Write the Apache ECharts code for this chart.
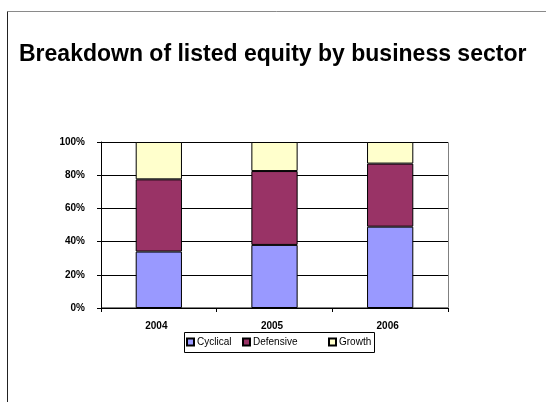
<!DOCTYPE html>
<html><head><meta charset="utf-8">
<script src="https://cdn.jsdelivr.net/npm/echarts@6/dist/echarts.min.js"></script>
<style>html,body{margin:0;padding:0;background:#fff}#c{width:546px;height:402px}</style>
</head><body><div id="c"></div>
<script>
const categories = ['2004', '2005', '2006'];
const cyclical = [34, 38, 49];
const defensive = [43.5, 44.5, 38];
const growth = [22.5, 17.5, 13];
const yTicks = [0, 20, 40, 60, 80, 100];
const seriesNames = ['Cyclical', 'Defensive', 'Growth'];

const chart = echarts.init(document.getElementById('c'), null, {renderer: 'canvas'});
const font = 'Liberation Sans, Arial, sans-serif';
const barStyle = (c) => ({color: c, borderColor: '#000', borderWidth: 1});
const legendBase = {
  top: 337, itemWidth: 7, itemHeight: 7, padding: 0, icon: 'rect',
  textStyle: {fontFamily: font, fontSize: 10, color: '#000', padding: [0, 0, 0, -2]}
};
chart.setOption({
  animation: false,
  backgroundColor: '#fff',
  title: {
    text: 'Breakdown of listed equity by business sector',
    left: 19, top: 43, padding: 0,
    textStyle: {fontFamily: font, fontWeight: 'bold', fontSize: 23, color: '#000'}
  },
  graphic: [
    {type: 'line', shape: {x1: 7.5, y1: 11.5, x2: 546, y2: 11.5}, style: {stroke: '#8a8a8a', lineWidth: 1}, silent: true},
    {type: 'line', shape: {x1: 7.5, y1: 11.5, x2: 7.5, y2: 402}, style: {stroke: '#222', lineWidth: 1}, silent: true},
    {type: 'rect', shape: {x: 101.5, y: 142.5, width: 347, height: 165}, style: {stroke: '#808080', lineWidth: 1, fill: null}, silent: true, z: 0},
    {type: 'rect', shape: {x: 184.5, y: 332.5, width: 190, height: 20}, style: {stroke: '#000', lineWidth: 1, fill: null}, silent: true}
  ],
  legend: [
    Object.assign({left: 186, data: [seriesNames[0]]}, legendBase),
    Object.assign({left: 242, data: [seriesNames[1]]}, legendBase),
    Object.assign({left: 328, data: [seriesNames[2]]}, legendBase)
  ],
  grid: {left: 101, right: 98, top: 142, bottom: 94, containLabel: false},
  xAxis: {
    type: 'category', data: categories,
    axisLine: {lineStyle: {color: '#000', width: 1}},
    axisTick: {show: true, length: 4, lineStyle: {color: '#000'}},
    axisLabel: {fontFamily: font, fontSize: 10, fontWeight: 'bold', color: '#000', margin: 13, padding: [0, 5, 0, 0]}
  },
  yAxis: {
    type: 'value', min: 0, max: 100, interval: 20,
    axisLine: {show: true, lineStyle: {color: '#000', width: 1}},
    axisTick: {show: true, length: 4, inside: false, lineStyle: {color: '#000'}},
    splitLine: {lineStyle: {color: '#000', width: 1}},
    axisLabel: {fontFamily: font, fontSize: 10, fontWeight: 'bold', color: '#000', margin: 16,
      formatter: (v) => yTicks.includes(v) ? v + '%' : ''}
  },
  series: [
    {name: seriesNames[0], type: 'bar', stack: 's', data: cyclical, barWidth: '40%', itemStyle: barStyle('#9999FF')},
    {name: seriesNames[1], type: 'bar', stack: 's', data: defensive, barWidth: '40%', itemStyle: barStyle('#993366')},
    {name: seriesNames[2], type: 'bar', stack: 's', data: growth, barWidth: '40%', itemStyle: barStyle('#FFFFCC')}
  ]
});
</script></body></html>
